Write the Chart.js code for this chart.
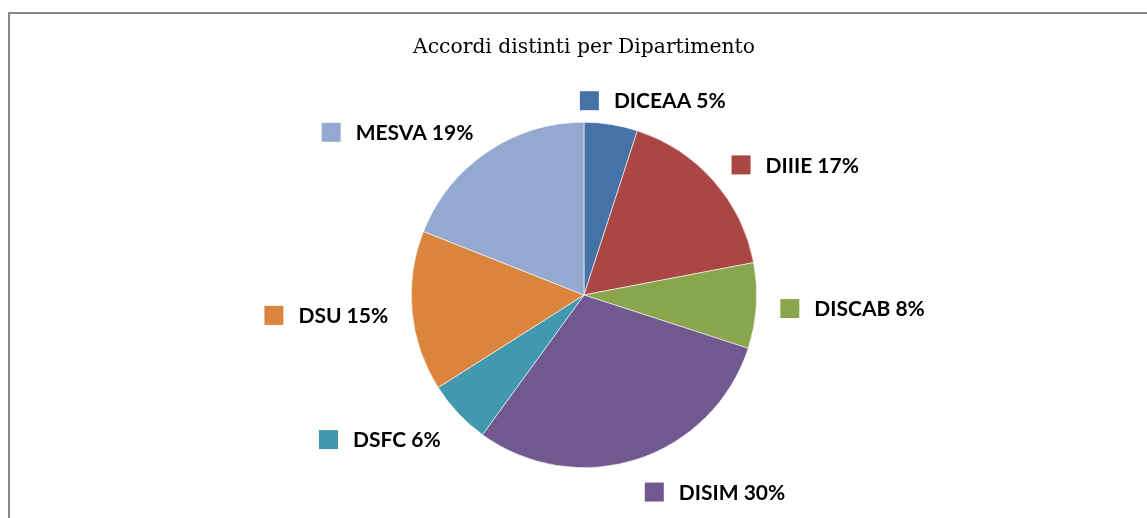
<!DOCTYPE html>
<html>
<head>
<meta charset="utf-8">
<script src="https://cdn.jsdelivr.net/npm/chart.js@4.4.1/dist/chart.umd.min.js"></script>
<style>
  html, body { margin: 0; padding: 0; background: #fff; overflow: hidden; }
  #wrap { position: relative; width: 1147px; height: 518px; }
  #frame { position: absolute; left: 8px; top: 12px; width: 1200px; height: 600px;
           border: 2px solid #878787; box-sizing: border-box; }
  canvas { position: absolute; left: 0; top: 0; }
</style>
</head>
<body>
<div id="wrap">
  <div id="frame"></div>
  <canvas id="pieChart" width="1147" height="518"></canvas>
</div>
<script>
const TITLE = 'Accordi distinti per Dipartimento';
const departments = ['DICEAA', 'DIIIE', 'DISCAB', 'DISIM', 'DSFC', 'DSU', 'MESVA'];
const shares = [5, 17, 8, 30, 6, 15, 19];
const COLORS = [
    '#4572A7', // DICEAA
    '#AA4643', // DIIIE
    '#89A54E', // DISCAB
    '#71588F', // DISIM
    '#4198AF', // DSFC
    '#DB843D', // DSU
    '#93A9CF'  // MESVA
];

const LABEL_FONT = 'bold 21px Lato';
const MARKER = 19;
const MARKER_GAP = 15;

// Draws "■ NAME xx%" outside each slice, placed along the slice's mid angle
const outsideLabels = {
    id: 'outsideLabels',
    afterDraw(chart) {
        const ctx = chart.ctx;
        const meta = chart.getDatasetMeta(0);
        ctx.save();
        ctx.font = LABEL_FONT;
        ctx.textBaseline = 'middle';
        ctx.textAlign = 'left';
        meta.data.forEach((arc, i) => {
            const props = arc.getProps(['x', 'y', 'startAngle', 'endAngle', 'outerRadius'], true);
            const mid = (props.startAngle + props.endAngle) / 2;
            const dist = props.outerRadius + 24;
            const ux = Math.cos(mid);
            const uy = Math.sin(mid);
            const px = props.x + dist * ux;
            const py = props.y + dist * uy;

            const text = departments[i] + ' ' + shares[i] + '%';
            const w = MARKER + MARKER_GAP + ctx.measureText(text).width;
            const h = 20;
            const fx = Math.max(-1, Math.min(1, ux / 0.3));
            const fy = Math.max(0, Math.min(1, uy / 0.5));
            const cx = px + fx * w / 2;
            const cy = py + fy * h / 2;
            const left = cx - w / 2;

            ctx.fillStyle = COLORS[i];
            ctx.fillRect(left, cy - MARKER / 2, MARKER, MARKER);
            ctx.fillStyle = '#000';
            ctx.fillText(text, left + MARKER + MARKER_GAP, cy + 1);
        });
        ctx.restore();
    }
};

const ctx = document.getElementById('pieChart').getContext('2d');
const chart = new Chart(ctx, {
    type: 'pie',
    data: {
        labels: departments,
        datasets: [{
            data: shares,
            backgroundColor: COLORS,
            borderColor: '#ffffff',
            borderWidth: 0.6
        }]
    },
    options: {
        responsive: false,
        animation: false,
        layout: { padding: { left: 411, right: 390, top: 0, bottom: 50 } },
        plugins: {
            legend: { display: false },
            tooltip: { enabled: false },
            title: {
                display: true,
                text: TITLE,
                color: '#000',
                font: { family: 'DejaVu Serif', size: 20.3, weight: 'normal', lineHeight: 1.2 },
                padding: { top: 35.8, bottom: 61.8 }
            }
        }
    },
    plugins: [outsideLabels]
});
</script>
</body>
</html>
